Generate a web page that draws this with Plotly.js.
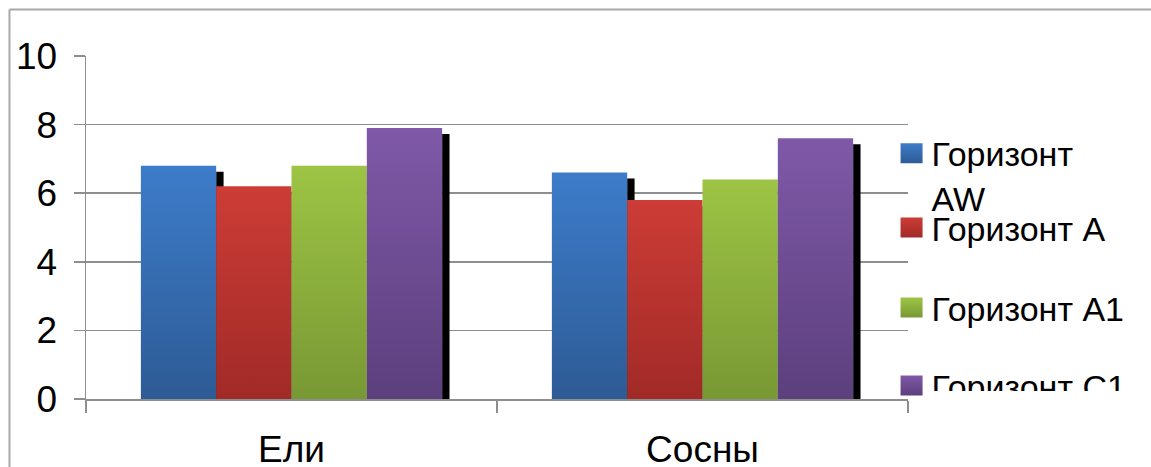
<!DOCTYPE html>
<html>
<head>
<meta charset="utf-8">
<script src="https://cdn.plot.ly/plotly-3.0.1.min.js"></script>
<style>
  html, body { margin: 0; padding: 0; background: #ffffff; }
  #wrap { position: relative; width: 1151px; height: 467px; overflow: hidden; }
  #chart { width: 1151px; height: 467px; }
  #legend-clip { position: absolute; left: 925px; top: 391px; width: 226px; height: 76px; background: #ffffff; }
</style>
</head>
<body>
<div id="wrap">
  <div id="chart"></div>
  <div id="legend-clip"></div>
</div>
<script>
// Categories and series values
const categories = ['Ели', 'Сосны'];
const seriesNames = ['Горизонт<br>AW', 'Горизонт A', 'Горизонт A1', 'Горизонт C1'];
const horizonAW = [6.8, 6.6];
const horizonA = [6.2, 5.8];
const horizonA1 = [6.8, 6.4];
const horizonC1 = [7.9, 7.6];
const yTickValues = [0, 2, 4, 6, 8, 10];

const seriesValues = [horizonAW, horizonA, horizonA1, horizonC1];

// Vertical gradient colours for each series (top, bottom)
const topColors = ['#3d7cca', '#cd3c36', '#9dc444', '#7f59a8'];
const bottomColors = ['#2d5b95', '#a12a27', '#789834', '#5c3f7d'];
const midColors = ['#3569ae', '#b6332f', '#8aae3c', '#6d4b92'];

const FONT = 'Liberation Sans, Arial, sans-serif';
const GRID = '#8e8e8e';

// Bar geometry in category units
const bargap = 0.267;
const groupWidth = 1 - bargap;
const barWidth = groupWidth / seriesValues.length;
const shadowWidth = 0.018;
const shadowDrop = 0.175;

const traces = [];
// Dark shadow strips along the right edge of each bar, drawn first
seriesValues.forEach((vals, i) => {
  traces.push({
    type: 'bar',
    x: categories,
    y: vals.map(v => v - shadowDrop),
    offset: -groupWidth / 2 + (i + 1) * barWidth,
    width: shadowWidth,
    marker: { color: '#000000', line: { width: 0 } },
    showlegend: false,
    hoverinfo: 'skip'
  });
});
const legendIds = ['legend', 'legend2', 'legend3', 'legend4'];
seriesValues.forEach((vals, i) => {
  traces.push({
    type: 'bar',
    name: seriesNames[i],
    x: categories,
    y: vals,
    offset: -groupWidth / 2 + i * barWidth,
    width: barWidth,
    marker: { color: midColors[i], line: { width: 0 } },
    legend: legendIds[i]
  });
});

const legendBase = {
  font: { family: FONT, size: 34, color: '#000000' },
  bgcolor: 'rgba(0,0,0,0)',
  borderwidth: 0,
  xanchor: 'left',
  x: 0.980
};

const layout = {
  width: 1151,
  height: 467,
  margin: { l: 86, r: 243, t: 56, b: 68, pad: 0, autoexpand: false },
  paper_bgcolor: '#ffffff',
  plot_bgcolor: '#ffffff',
  barmode: 'overlay',
  font: { family: FONT, color: '#000000' },
  xaxis: {
    type: 'category',
    range: [-0.5, 1.5],
    tickson: 'boundaries',
    ticks: 'outside',
    ticklen: 12,
    tickwidth: 1.5,
    tickcolor: GRID,
    showline: true,
    linecolor: GRID,
    linewidth: 1.5,
    showgrid: false,
    zeroline: false,
    tickfont: { family: FONT, size: 37, color: '#000000' },
    ticklabelstandoff: 17
  },
  yaxis: {
    range: [0, 10],
    tickvals: yTickValues,
    ticktext: yTickValues.map(String),
    ticks: 'outside',
    ticklen: 11,
    tickwidth: 1.5,
    tickcolor: GRID,
    showline: true,
    linecolor: GRID,
    linewidth: 1.5,
    showgrid: true,
    gridcolor: GRID,
    gridwidth: 1.5,
    zeroline: false,
    tickfont: { family: FONT, size: 37, color: '#000000' },
    ticklabelstandoff: 9
  },
  legend: Object.assign({}, legendBase, { y: 0.800, yanchor: 'top', valign: 'top' }),
  legend2: Object.assign({}, legendBase, { y: 0.4985, yanchor: 'middle' }),
  legend3: Object.assign({}, legendBase, { y: 0.2653, yanchor: 'middle' }),
  legend4: Object.assign({}, legendBase, { y: 0.0379, yanchor: 'middle' }),
  shapes: [
    // chart-area frame: top and left edges
    { type: 'line', xref: 'paper', yref: 'paper', x0: -0.0931, x1: 1.31, y0: 1.1356, y1: 1.1356,
      line: { color: '#a9a9a9', width: 2 } },
    { type: 'line', xref: 'paper', yref: 'paper', x0: -0.0931, x1: -0.0931, y0: -0.3, y1: 1.1356,
      line: { color: '#a9a9a9', width: 2 } }
  ]
};

const gd = document.getElementById('chart');
const nShadow = seriesValues.length;

function seriesIndexOf(el) {
  const d = el.__data__;
  const tr = d && d[0] && d[0].trace;
  if (!tr || typeof tr.index !== 'number' || tr.index < nShadow) return -1;
  return tr.index - nShadow;
}

function applyGradients() {
  const ns = 'http://www.w3.org/2000/svg';
  const svg = gd.querySelector('svg.main-svg');
  if (!svg) return;
  let defs = svg.querySelector('defs');
  if (!defs) { defs = document.createElementNS(ns, 'defs'); svg.insertBefore(defs, svg.firstChild); }
  seriesValues.forEach((_, i) => {
    if (document.getElementById('series-fill-' + i)) return;
    const g = document.createElementNS(ns, 'linearGradient');
    g.setAttribute('id', 'series-fill-' + i);
    g.setAttribute('x1', '0'); g.setAttribute('y1', '0');
    g.setAttribute('x2', '0'); g.setAttribute('y2', '1');
    [[0, topColors[i]], [1, bottomColors[i]]].forEach(([off, col]) => {
      const s = document.createElementNS(ns, 'stop');
      s.setAttribute('offset', off);
      s.setAttribute('stop-color', col);
      g.appendChild(s);
    });
    defs.appendChild(g);
  });
  gd.querySelectorAll('.barlayer .trace.bars').forEach(el => {
    const k = seriesIndexOf(el);
    if (k < 0) return;
    el.querySelectorAll('path').forEach(p => { p.style.fill = 'url(#series-fill-' + k + ')'; });
  });
  // enlarge the legend swatches and give them the same gradient
  gd.querySelectorAll('.infolayer g.traces').forEach(el => {
    const k = seriesIndexOf(el);
    if (k < 0) return;
    el.querySelectorAll('.legendpoints path').forEach(p => {
      p.setAttribute('d', 'M11,10H-11V-10H11Z');
      p.style.fill = 'url(#series-fill-' + k + ')';
      p.style.strokeWidth = '0px';
    });
  });
}

Plotly.newPlot(gd, traces, layout, { staticPlot: true, displayModeBar: false }).then(() => {
  applyGradients();
  gd.on('plotly_afterplot', applyGradients);
  setTimeout(applyGradients, 50);
});
</script>
</body>
</html>
